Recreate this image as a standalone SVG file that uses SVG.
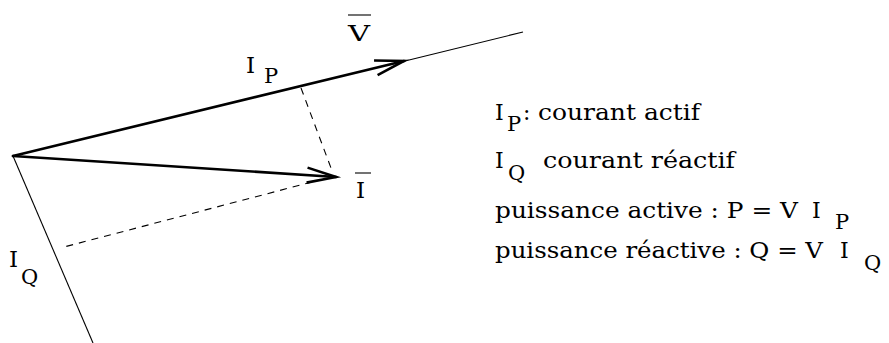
<svg xmlns="http://www.w3.org/2000/svg" width="889" height="343" viewBox="0 0 889 343">
<defs>
<style>
.thick{stroke:#000;stroke-width:2.6;fill:none;stroke-linecap:round}
.thin{stroke:#000;stroke-width:1.1;fill:none}
.dash{stroke:#000;stroke-width:1.1;fill:none;stroke-dasharray:7 6}
.t{font-family:"DejaVu Serif","Liberation Serif",serif;font-size:22px;fill:#000}
.s{font-family:"DejaVu Serif","Liberation Serif",serif;font-size:21px;fill:#000}
.lbl{font-family:"DejaVu Serif","Liberation Serif",serif;font-size:23px;fill:#000}
</style>
<marker id="arr" viewBox="-35 -12 40 24" refX="0" refY="0" markerWidth="40" markerHeight="24" orient="auto" markerUnits="userSpaceOnUse">
<path d="M-29,-7.5 L0,0 L-29,7.5" fill="none" stroke="#000" stroke-width="2.6" stroke-linejoin="miter"/>
</marker>
</defs>
<rect width="889" height="343" fill="#fff"/>
<g id="connectors">
<line class="thin" x1="405" y1="61" x2="523" y2="32"/>
<line class="thick" x1="13" y1="156" x2="404" y2="61" marker-end="url(#arr)"/>
<line class="thick" x1="13" y1="156" x2="336" y2="177" marker-end="url(#arr)"/>
<line class="thin" x1="13" y1="156" x2="93" y2="343"/>
<line class="dash" x1="301" y1="88" x2="331" y2="168"/>
<line class="dash" x1="312" y1="182" x2="64" y2="247"/>
</g>
<g id="label-V">
<line class="thin" x1="348" y1="15" x2="371" y2="15"/>
<text class="lbl" x="348" y="41" textLength="22" lengthAdjust="spacingAndGlyphs">V</text>
</g>
<g id="label-I">
<line class="thin" x1="355" y1="173" x2="371" y2="173"/>
<text class="lbl" x="356" y="198">I</text>
</g>
<g id="label-IP">
<text class="lbl" x="246" y="73">I</text>
<text class="s" x="264" y="83">P</text>
</g>
<g id="label-IQ">
<text class="lbl" x="9" y="267">I</text>
<text class="s" x="21" y="284">Q</text>
</g>
<g id="legend">
<text class="t" x="495" y="120">I</text>
<text class="s" x="507" y="131">P</text>
<text class="t" x="523" y="120">:</text>
<text class="t" x="538" y="120" textLength="162" lengthAdjust="spacingAndGlyphs">courant actif</text>
<text class="t" x="495" y="168">I</text>
<text class="s" x="508" y="180">Q</text>
<text class="t" x="543" y="168" textLength="192" lengthAdjust="spacingAndGlyphs">courant réactif</text>
<text class="t" x="495" y="218" textLength="303" lengthAdjust="spacingAndGlyphs">puissance active : P = V</text>
<text class="t" x="812" y="218">I</text>
<text class="s" x="835" y="229">P</text>
<text class="t" x="495" y="258" textLength="328" lengthAdjust="spacingAndGlyphs">puissance réactive : Q = V</text>
<text class="t" x="840" y="258">I</text>
<text class="s" x="864" y="270">Q</text>
</g>
</svg>
